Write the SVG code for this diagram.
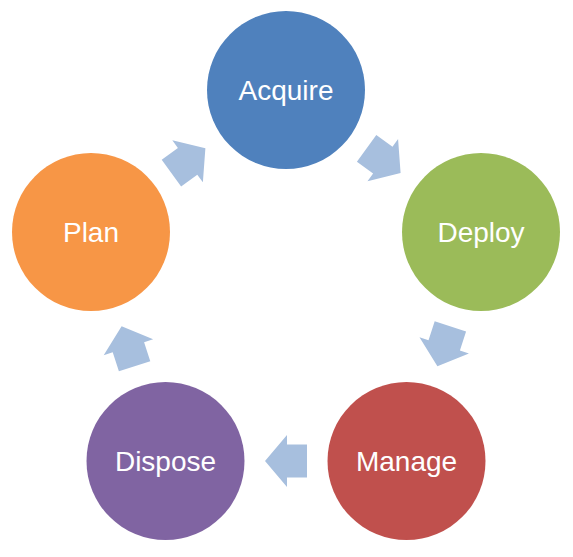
<svg xmlns="http://www.w3.org/2000/svg" width="573" height="557" viewBox="0 0 573 557">
<style>
.lbl{font-family:"Liberation Sans",Arial,sans-serif;font-size:28px;fill:#fff;text-anchor:middle}
.arr{fill:#A7BFDE}
</style>
<defs>
<path id="arrow" d="M-21,-16.5 L-1,-16.5 L-1,-26 L21,0 L-1,26 L-1,16.5 L-21,16.5 Z"/>
</defs>
<rect width="573" height="557" fill="#fff"/>
<g id="connectors">
<use href="#arrow" class="arr" transform="translate(383.6,160.7) rotate(36)"/>
<use href="#arrow" class="arr" transform="translate(443.9,346.3) rotate(108)"/>
<use href="#arrow" class="arr" transform="translate(286,461) rotate(180)"/>
<use href="#arrow" class="arr" transform="translate(128.1,346.3) rotate(252)"/>
<use href="#arrow" class="arr" transform="translate(188.4,160.7) rotate(324)"/>
</g>
<g id="acquire"><circle cx="286" cy="90" r="79" fill="#4F81BD"/><text class="lbl" x="286" y="100">Acquire</text></g>
<g id="deploy"><circle cx="481" cy="232" r="79" fill="#9BBB59"/><text class="lbl" x="481" y="242">Deploy</text></g>
<g id="manage"><circle cx="406.5" cy="461" r="79" fill="#C0504D"/><text class="lbl" x="406.5" y="471">Manage</text></g>
<g id="dispose"><circle cx="165.5" cy="461" r="79" fill="#8064A2"/><text class="lbl" x="165.5" y="471">Dispose</text></g>
<g id="plan"><circle cx="91" cy="232" r="79" fill="#F79646"/><text class="lbl" x="91" y="242">Plan</text></g>
</svg>
